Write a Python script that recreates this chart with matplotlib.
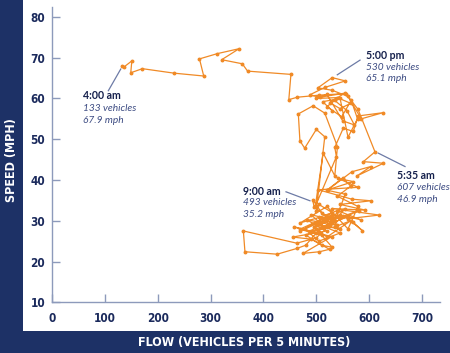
import matplotlib
matplotlib.use("Agg")
import matplotlib.pyplot as plt
from matplotlib.patches import Rectangle

# ---- data: flow (vehicles per 5 min) and speed (mph), in time order from 4:00 am ----
flow = [
    133, 137, 151, 149, 171, 231, 287, 279, 313, 354, 321, 360, 370, 452, 448,
    464, 505, 556, 579, 611,
    589, 627, 577, 603, 567, 522, 570, 541, 579, 504, 567, 603, 545, 593, 530, 619,
    560, 587, 570, 550, 520, 545, 500, 530, 470, 510, 458, 529, 475, 506, 525, 490,
    455, 520, 482, 540, 510, 493,
    496, 521, 470, 505, 545, 500, 480, 463, 426, 365, 362, 463, 500, 530, 555, 515,
    490, 535, 565, 520, 495, 545, 580, 525, 480, 510, 530, 500, 560, 585, 540, 505,
    470, 520, 560, 579, 540, 565, 550, 520, 555, 535, 490, 515, 545, 505, 478, 530, 505,
    500, 516, 500, 478, 469, 466, 494, 516, 540, 535, 513, 498, 538, 535, 551, 570,
    579, 626, 585, 560, 530, 503, 530,
    555, 516, 488, 507, 554, 525, 545, 565, 540, 500, 520, 550, 572, 558, 535, 520,
    548, 566, 578, 560, 545, 512, 530,
]
speed = [
    67.9, 67.8, 69.2, 66.3, 67.3, 66.2, 65.5, 69.7, 71.0, 72.2, 69.5, 68.5, 66.7, 65.9, 59.7,
    60.3, 60.8, 61.2, 57.3, 46.9,
    44.5, 44.1, 41.0, 43.3, 42.0, 37.6, 39.6, 40.4, 38.2, 37.6, 35.3, 34.9, 34.0, 32.6, 33.0, 31.4,
    30.5, 27.6, 29.6, 31.2, 30.2, 28.0, 29.0, 31.5, 28.0, 26.5, 28.5, 26.1, 22.0, 22.4, 23.0, 25.5,
    26.0, 27.5, 30.2, 29.0, 32.0, 35.2,
    33.3, 31.0, 27.5, 29.5, 31.5, 27.0, 24.0, 23.2, 21.8, 22.4, 27.5, 24.5, 25.8, 29.5, 33.0, 30.0,
    27.5, 28.5, 30.0, 26.0, 28.5, 30.8, 32.5, 29.0, 26.5, 24.0, 23.5, 28.0, 31.0, 30.2, 32.5, 30.8,
    29.5, 33.5, 28.0, 33.5, 36.0, 38.5, 40.5, 37.5, 36.5, 30.0, 31.5, 28.5, 27.0, 25.0, 28.0, 32.0, 34.0,
    32.5, 50.6, 52.4, 47.8, 49.6, 56.2, 58.2, 56.4, 48.2, 41.0, 46.6, 33.5, 45.7, 48.0, 52.7, 51.9,
    55.7, 56.5, 55.0, 60.5, 62.0, 62.6, 65.1,
    64.3, 62.7, 60.9, 60.3, 61.3, 59.0, 57.5, 58.8, 60.2, 60.0, 61.0, 54.5, 53.5, 57.0, 59.5, 58.0,
    55.5, 59.5, 55.0, 50.5, 60.0, 59.2, 57.0,
]

x_ticks = [0, 100, 200, 300, 400, 500, 600, 700]
y_ticks = [10, 20, 30, 40, 50, 60, 70, 80]

NAVY = "#1d3166"
ORANGE = "#f08a26"
SPINE = "#8d9abb"
TICKTXT = "#1b2a5c"
BOLDTXT = "#15204c"
ITTXT = "#3c4b82"
LEADER = "#6d7ba6"

W, H = 450, 353
fig = plt.figure(figsize=(4.5, 3.53), dpi=100, facecolor=NAVY)
fig.patches.append(Rectangle((23 / W, 22 / H), 1 - 23 / W, 1 - 22 / H,
                             transform=fig.transFigure, facecolor="white",
                             edgecolor="none", zorder=-5))

ax = fig.add_axes([52 / W, (H - 302.3) / H, 388 / W, 295.6 / H])
ax.set_zorder(2)
ax.set_facecolor("none")
ax.set_xlim(0, 734)
ax.set_ylim(10, 82.5)

for s in ["top", "right"]:
    ax.spines[s].set_visible(False)
for s in ["left", "bottom"]:
    ax.spines[s].set_color(SPINE)
    ax.spines[s].set_linewidth(1.0)

tickfont = dict(family="DejaVu Sans", stretch="condensed", weight="bold", size=8.5)
ax.set_xticks(x_ticks)
ax.set_yticks(y_ticks)
ax.set_xticklabels([str(v) for v in x_ticks], color=TICKTXT, **tickfont)
ax.set_yticklabels([str(v) for v in y_ticks], color=TICKTXT, **tickfont)
ax.tick_params(axis="both", direction="in", length=5.5, width=1.0, color=SPINE)
ax.tick_params(axis="x", pad=7)
ax.tick_params(axis="y", pad=5)

ax.plot(flow, speed, color=ORANGE, lw=0.9, marker="o", ms=1.8,
        mec=ORANGE, mfc=ORANGE, zorder=3, clip_on=False)

# annotations
labels = [
    ("4:00 am", "133 vehicles", "67.9 mph", 59, 60.6, 57.6, 54.7, ((130, 67.2), (106.6, 61.9))),
    ("5:00 pm", "530 vehicles", "65.1 mph", 594, 70.5, 67.7, 64.8, ((582.7, 69.4), (539.7, 65.8))),
    ("5:35 am", "607 vehicles", "46.9 mph", 652, 41.0, 38.1, 35.3, ((617, 46.6), (667.8, 43.3))),
    ("9:00 am", "493 vehicles", "35.2 mph", 361, 37.2, 34.4, 31.5, ((442.7, 37.1), (488, 34.9))),
]
for b, l2, l3, tx, y1, y2, y3, ((x0, y0), (x1, y1l)) in labels:
    ax.text(tx, y1, b, family="Lato", weight="bold", size=7.6, color=BOLDTXT,
            va="center", ha="left")
    ax.text(tx, y2, l2, family="Lato", style="italic", size=7.3, color=ITTXT,
            va="center", ha="left")
    ax.text(tx, y3, l3, family="Lato", style="italic", size=7.3, color=ITTXT,
            va="center", ha="left")
    ax.plot([x0, x1], [y0, y1l], color=LEADER, lw=0.9, zorder=2)

fig.text(11.5 / W, 1 - 160 / H, "SPEED (MPH)", rotation=90, color="white",
         family="DejaVu Sans", stretch="condensed", weight="bold", size=9,
         ha="center", va="center")
fig.text(244 / W, 1 - 342.5 / H, "FLOW (VEHICLES PER 5 MINUTES)", color="white",
         family="DejaVu Sans", stretch="condensed", weight="bold", size=9,
         ha="center", va="center")

fig.savefig("out.png", dpi=100, facecolor=NAVY)
